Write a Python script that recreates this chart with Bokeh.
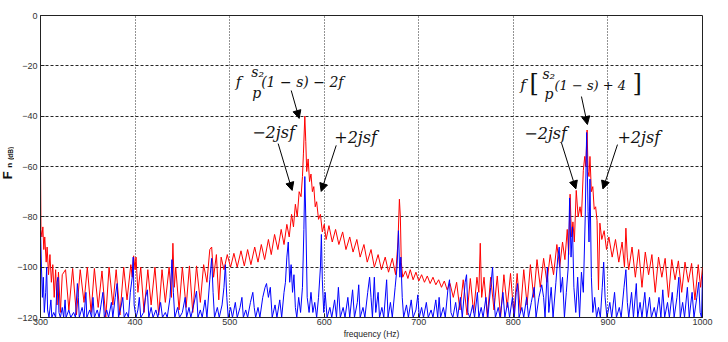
import numpy as np
from bokeh.plotting import figure
from bokeh.layouts import row
from bokeh.models import Label, Arrow, NormalHead, FixedTicker, Range1d
from bokeh.embed import file_html
from bokeh.resources import INLINE

# ---------------- data ----------------
x_ticks = [300, 400, 500, 600, 700, 800, 900, 1000]
y_ticks = [-120, -100, -80, -60, -40, -20, 0]

# red spectrum (segments)
red_f1 = [300, 300.5, 301.5, 302.5, 303.5, 304.5, 306, 307, 308.5, 310, 311.5, 313, 314.5, 316, 317.5, 319, 321, 323]
red_d1 = [-60, -85, -88, -84, -93, -88, -98, -92, -103, -95, -106, -99, -112, -101, -115, -102, -118, -103]

red_f2 = [326.5, 330, 334, 338, 342, 346, 349.5, 353.5, 357, 361,
          365, 369, 372.5, 376.5, 380, 384, 388, 391.5, 395.5, 397,
          398.5, 400, 401, 403, 406, 409.5, 413.5, 417, 421, 425,
          428.5, 432, 436, 438.5, 440, 441.5, 443, 446.5, 450, 454,
          457.5, 461, 465, 469, 472.5, 476, 479, 481, 483]
red_d2 = [-101, -117, -100.5, -119, -101, -114, -100, -118, -100.5, -116,
          -101.5, -120, -100, -115, -101, -119, -100, -113, -99, -104,
          -95.5, -101, -96, -110, -100, -118, -101, -115, -100, -119,
          -101, -114, -100, -112, -90.5, -108, -100, -117, -100, -116,
          -99.5, -118, -99.5, -114, -99, -106, -93, -92, -104]

red_f3 = [486, 488.5, 491, 494, 497.5, 501, 504.5, 508, 512, 515.5,
          519, 522.5, 526.5, 530, 533.5, 537, 541, 544, 547.5, 551,
          554.5, 557.5, 560.5, 563, 565.5, 567.5, 569.5, 571.5, 573.5, 575.5,
          577, 578, 579.5, 580.5, 581.5, 583, 584.5, 586, 587.5, 589,
          590.5, 592, 594, 596, 598, 600, 602]
red_d3 = [-95, -113, -96, -101, -95, -100, -94.5, -100, -93.5, -99.5,
          -93, -99, -92, -98, -91, -97, -89, -95, -87, -93,
          -85, -91, -83, -88, -79, -84, -75, -80, -70, -72,
          -64, -55, -40, -50, -62, -57, -66, -63, -70, -68,
          -76, -74, -81, -79, -86, -83, -89]

red_f4 = [605, 608.5, 612, 615.5, 619.5, 623, 627, 630.5, 634.5, 638,
          642, 645.5, 649.5, 653, 657, 660.5, 664.5, 668, 672, 675.5,
          678, 679.5, 680.5, 681.5, 683]
red_d4 = [-83.5, -90, -85, -91, -86, -93, -88, -94, -89, -96,
          -91, -98, -93, -100, -95, -101, -96, -102, -96.5, -103,
          -90, -73, -80, -98, -104]

red_f5 = [686, 688.5, 691, 694, 697, 700, 703, 706, 709, 712,
          715, 718, 721, 724, 727, 730, 733, 736.5, 740, 743.5]
red_d5 = [-101.5, -104.5, -101, -105, -102, -105.5, -103, -106, -103.5, -106.5,
          -104, -107, -105, -108, -105.5, -109, -106.5, -112, -106, -117]

red_f6 = [747, 751, 754.5, 758, 761.5, 763.5, 765, 766.5, 769, 772.5,
          776, 779.5, 783, 786.5, 790, 793.5, 797, 800.5, 804, 807.5,
          811, 814.5, 818, 821.5, 825, 828.5, 832, 835.5]
red_d6 = [-105, -119, -104.5, -118, -104, -110, -90.5, -112, -104, -120,
          -104, -117, -103.5, -120, -103, -116, -102.5, -119, -102.5, -118,
          -101, -115, -99, -112, -97, -108, -96.5, -106]

red_f7 = [839, 842.5, 846, 849, 852, 854.5, 857, 858.5, 860, 861.5,
          863, 864.5, 866.5, 868.5, 870.5, 872, 874, 875.5, 876.5, 878,
          879, 880, 881, 882.5, 884, 885.5, 887, 888.5, 890, 891.5,
          893.5, 896, 898.5]
red_d7 = [-95, -103, -91, -100, -90, -97, -85, -95, -71, -88,
          -82, -90, -69.5, -80, -76, -80, -61.5, -56, -60, -45.5,
          -62, -64, -56, -70, -68, -77, -76, -81.5, -109, -82.5,
          -89, -85.5, -93]

red_f8 = [901, 904.5, 908, 911.5, 915, 917.5, 919, 920.5, 922, 925.5,
          929, 932.5, 936, 939.5, 943, 946.5, 950, 953.5, 957, 960.5,
          964, 967.5, 971, 974.5, 978, 981.5, 985, 988.5, 992, 995.5,
          998, 1000]
red_d8 = [-88, -96, -89, -98, -90, -100, -84.5, -96, -101, -92,
          -104, -93, -108, -94, -103, -95, -110, -96, -104, -96.5,
          -112, -97, -105, -97.5, -110, -98, -106, -98.5, -113, -99,
          -108, -100]

# blue spectrum (segments)
blue_f1 = [300, 301, 302, 303, 304, 305.5, 306.5, 307.5, 309, 311,
           312, 314, 316, 317.5, 318.5, 319.5, 321, 323, 324.5, 326,
           327, 330, 332, 335, 337, 339, 340, 341, 344, 346,
           348, 349, 352, 354, 355.5, 357, 360, 362, 364, 366,
           367.5, 370, 372, 375, 376.5, 379, 381, 382.5, 385, 387,
           388.5, 391, 393, 395, 397, 398, 399]
blue_d1 = [-85, -100, -112, -104, -118, -110, -100, -117, -120, -113,
           -120, -118, -120, -106, -104, -118, -120, -116, -120, -113,
           -120, -117, -120, -118, -120, -106.5, -112, -120, -116, -120,
           -110, -120, -117, -120, -112, -120, -117, -120, -115, -110,
           -120, -117, -120, -114, -120, -112, -106.5, -120, -116, -112,
           -120, -118, -120, -110, -104, -96, -115]

blue_f2 = [401, 403, 404.5, 406, 409, 411, 413, 414.5, 417, 419,
           422, 424, 427, 429, 432, 434, 437, 439, 440.5, 442,
           445, 447, 450, 453, 454.5, 457, 459, 462, 465, 466.5,
           469, 471, 474, 476, 479, 481, 482.5, 484, 487, 489,
           492, 494, 495.5, 497, 498.5]
blue_d2 = [-120, -117, -112, -120, -118, -112, -109, -120, -116, -120,
           -117, -120, -114, -120, -118, -120, -112, -97, -110, -120,
           -116, -120, -118, -112, -120, -116, -120, -115, -109.5, -120,
           -117, -120, -113, -120, -105, -96.5, -110, -120, -116, -120,
           -115, -108, -99, -112, -120]

blue_f3 = [501, 503, 506, 508, 511, 513, 514.5, 517, 519, 522,
           524.5, 526, 527.5, 530, 532, 535, 537.5, 539, 541, 543,
           545, 548, 550, 553, 555, 557.5, 559, 560.5, 562, 563.5,
           565, 566.5, 568, 569.5, 571, 573, 575, 577, 578.5, 579.5,
           580.5, 582, 584, 586, 588, 590, 592, 594, 596, 597,
           598, 599.5]
blue_d3 = [-116, -120, -114, -120, -116, -112, -120, -117, -120, -114,
           -110, -116, -120, -116, -120, -112, -108, -106.5, -112, -108,
           -120, -115, -120, -113, -120, -110, -106, -96, -90, -106,
           -99, -110, -103, -116, -120, -112, -118, -108, -85, -64,
           -80, -112, -118, -110, -118, -114, -120, -112, -100, -87,
           -105, -118]

blue_f4 = [601, 603, 606, 608, 611, 613, 615, 617, 620, 622,
           625, 627, 630, 632, 635, 636.5, 638, 641, 643, 646,
           648, 649.5, 651, 653, 654.5, 657, 658.5, 661, 663, 666,
           667.5, 670, 672, 675, 677, 678.5, 680, 681, 682.5, 684,
           687, 689, 692, 694, 697, 699]
blue_d4 = [-110, -120, -116, -120, -113, -120, -108, -120, -116, -120,
           -112, -120, -109, -120, -114, -107, -120, -116, -120, -110,
           -104, -112, -120, -104, -118, -110, -120, -116, -120, -105,
           -120, -114, -120, -108, -100, -85.5, -104, -96, -112, -120,
           -115, -120, -113, -120, -117, -111]

blue_f5 = [700.5, 703, 705, 708, 710, 713, 715, 718, 720, 721.5,
           723, 726, 728, 731, 732.5, 734, 736, 739, 741, 744,
           746, 749, 750.5, 752, 754, 757, 759, 762, 763.5, 766,
           768, 771, 773, 776, 778, 779.5, 781, 784, 786, 789,
           791, 794, 796, 799]
blue_d5 = [-120, -116, -120, -114, -120, -117, -120, -113, -120, -112,
           -120, -116, -120, -108, -105, -118, -120, -114, -120, -112,
           -120, -106, -103, -118, -120, -115, -120, -110, -120, -116,
           -120, -112, -120, -108, -100, -112, -120, -116, -120, -110,
           -120, -114, -120, -112]

blue_f6 = [801, 803, 804.5, 806, 809, 811, 814, 816, 819, 822,
           824, 827, 830, 832, 833.5, 836, 837.5, 840, 842, 845,
           847, 848.5, 850, 852, 854, 856, 858, 859.5, 861, 862.5,
           864, 866, 868, 870, 872, 874, 876, 877.5, 879, 880,
           881, 882.5, 884, 886, 888, 890, 892, 894, 895.5, 897,
           899]
blue_d6 = [-120, -110, -106.5, -120, -116, -120, -112, -120, -114, -108,
           -120, -112, -107, -112, -120, -100, -118, -108, -120, -106,
           -96, -92, -110, -104, -120, -110, -100, -72.5, -96, -84,
           -108, -118, -104, -120, -102, -110, -80, -46.5, -78, -90,
           -65, -104, -118, -112, -120, -116, -120, -108, -98, -112,
           -120]

blue_f7 = [902, 904, 907, 909, 912, 914, 917, 919, 920.5, 922,
           925, 927, 930, 931.5, 934, 936, 939, 941, 944, 946,
           949, 951, 954, 956, 958, 960, 963, 965, 968, 970,
           973, 975, 976.5, 979, 981, 984, 986, 989, 991, 994,
           996, 997.5, 999, 1000]
blue_d7 = [-114, -120, -110, -120, -116, -120, -108, -101, -114, -120,
           -110, -120, -106.5, -120, -114, -120, -110, -120, -112, -120,
           -116, -120, -112, -120, -109, -120, -114, -120, -110, -120,
           -112, -104, -120, -114, -120, -108, -120, -110, -120, -112,
           -106, -118, -120, -103]

red_freq = red_f1 + red_f2 + red_f3 + red_f4 + red_f5 + red_f6 + red_f7 + red_f8
red_db = red_d1 + red_d2 + red_d3 + red_d4 + red_d5 + red_d6 + red_d7 + red_d8
blue_freq = blue_f1 + blue_f2 + blue_f3 + blue_f4 + blue_f5 + blue_f6 + blue_f7
blue_db = blue_d1 + blue_d2 + blue_d3 + blue_d4 + blue_d5 + blue_d6 + blue_d7

# ---------------- y-axis title strip ----------------
TOTAL_H = 341
STRIP_W = 14
lab = figure(width=STRIP_W, height=TOTAL_H, x_range=Range1d(0, STRIP_W), y_range=Range1d(0, TOTAL_H),
             output_backend="svg", toolbar_location=None, min_border=0,
             x_axis_location=None, y_axis_location=None)
lab.outline_line_color = None
lab.grid.visible = False
lab.background_fill_color = "white"
lab.border_fill_color = "white"

ylab_text = ["F", "n", "(dB)"]
ylab_x = [7.0, 9.3, 10.0]
ylab_y = [156, 169, 178]
ylab_size = ["13px", "8px", "6.5px"]
for t, xx, yy, sz in zip(ylab_text, ylab_x, ylab_y, ylab_size):
    lab.add_layout(Label(x=xx, y=yy, text=t, angle=np.pi / 2, text_font="Liberation Sans",
                         text_font_style="bold", text_font_size=sz, text_color="#111111",
                         text_align="left", text_baseline="middle"))

# ---------------- main figure ----------------
p = figure(frame_width=662, frame_height=302,
           x_range=Range1d(300, 1000), y_range=Range1d(-120, 0),
           output_backend="svg", toolbar_location=None,
           min_border_left=21, min_border_top=15, min_border_right=12, min_border_bottom=24)

p.background_fill_color = "white"
p.border_fill_color = "white"
p.outline_line_color = "#222222"
p.outline_line_width = 1

p.line(red_freq, red_db, line_color="#ff0000", line_width=1)
p.line(blue_freq, blue_db, line_color="#0000ff", line_width=1)

for ax in (p.xaxis[0], p.yaxis[0]):
    ax.axis_line_color = "#222222"
    ax.major_tick_in = 4
    ax.major_tick_out = 0
    ax.minor_tick_in = 0
    ax.minor_tick_out = 0
    ax.major_tick_line_color = "#222222"
    ax.major_label_text_font = "Liberation Sans"
    ax.major_label_text_font_size = "9px"
    ax.major_label_text_color = "#333333"

p.xaxis.ticker = FixedTicker(ticks=x_ticks)
p.yaxis.ticker = FixedTicker(ticks=y_ticks)
p.xaxis.major_label_standoff = 1
p.yaxis.major_label_standoff = 3
p.xaxis.axis_label = "frequency (Hz)"
p.xaxis.axis_label_text_font = "Liberation Sans"
p.xaxis.axis_label_text_font_size = "8.5px"
p.xaxis.axis_label_text_font_style = "normal"
p.xaxis.axis_label_text_color = "#222222"
p.xaxis.axis_label_standoff = 1

p.xgrid.grid_line_color = "#000000"
p.xgrid.grid_line_dash = "1 2"
p.xgrid.grid_line_alpha = 0.85
p.ygrid.grid_line_color = "#000000"
p.ygrid.grid_line_dash = "3 2"
p.ygrid.grid_line_alpha = 0.85

# annotation formulas
ann_text = ["f", "s\u2082", "p", "(1 \u2212 s) \u2212 2f",
            "f", "s\u2082", "p", "(1 \u2212 s) + 4",
            "\u22122jsf", "+2jsf", "\u22122jsf", "+2jsf"]
ann_x = [506.5, 522.8, 523.8, 533.3,
         807.4, 830.7, 832.8, 843.4,
         523.8, 610.6, 811.6, 910.0]
ann_y = [-26.4, -22.3, -30.8, -26.4,
         -27.6, -23.2, -31.2, -28.0,
         -46.5, -48.5, -47.0, -48.3]
ann_size = ["15px", "14px", "14px", "14px",
            "15px", "14px", "14px", "13px",
            "16px", "16px", "16px", "16px"]
for t, xx, yy, sz in zip(ann_text, ann_x, ann_y, ann_size):
    p.add_layout(Label(x=xx, y=yy, text=t, text_font="DejaVu Serif", text_font_style="italic",
                       text_font_size=sz, text_color="#111111",
                       text_align="left", text_baseline="middle"))

bracket_text = ["[", "]"]
bracket_x = [817.0, 926.0]
bracket_y = [-26.8, -26.8]
for t, xx, yy in zip(bracket_text, bracket_x, bracket_y):
    p.add_layout(Label(x=xx, y=yy, text=t, text_font="DejaVu Serif",
                       text_font_size="24px", text_color="#111111",
                       text_align="left", text_baseline="middle"))

# arrows
arr_x0 = [565.1, 551.3, 612.7, 872.0, 850.8, 910.1]
arr_y0 = [-29.8, -50.9, -51.6, -32.2, -50.5, -51.3]
arr_x1 = [573.5, 566.1, 596.8, 878.3, 866.1, 894.7]
arr_y1 = [-40.9, -69.5, -69.9, -43.3, -68.9, -68.9]
for a, b, c, d in zip(arr_x0, arr_y0, arr_x1, arr_y1):
    p.add_layout(Arrow(end=NormalHead(size=8, fill_color="black", line_color="black", line_width=1),
                       x_start=a, y_start=b, x_end=c, y_end=d,
                       line_color="black", line_width=1))

layout = row(lab, p)
open("out.html", "w").write(file_html(layout, INLINE))
